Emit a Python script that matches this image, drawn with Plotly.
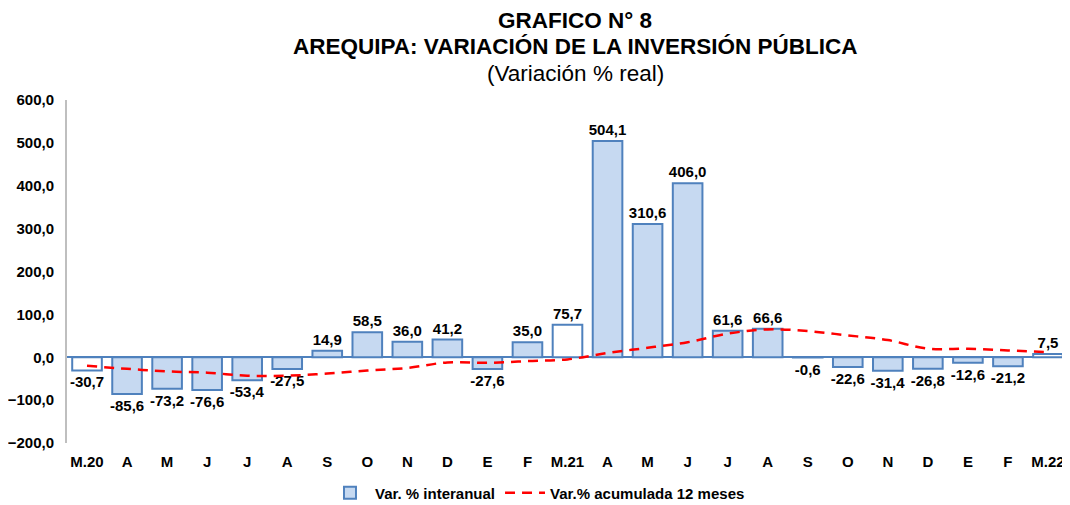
import plotly.graph_objects as go

categories = ["M.20", "A", "M", "J", "J ", "A ", "S", "O", "N", "D", "E", "F", "M.21",
              "A  ", "M ", "J  ", "J   ", "A   ", "S ", "O ", "N ", "D ", "E ", "F ", "M.22"]
tick_labels = ["M.20", "A", "M", "J", "J", "A", "S", "O", "N", "D", "E", "F", "M.21",
               "A", "M", "J", "J", "A", "S", "O", "N", "D", "E", "F", "M.22"]
interanual = [-30.7, -85.6, -73.2, -76.6, -53.4, -27.5, 14.9, 58.5, 36.0, 41.2, -27.6, 35.0, 75.7,
              504.1, 310.6, 406.0, 61.6, 66.6, -0.6, -22.6, -31.4, -26.8, -12.6, -21.2, 7.5]
acumulada = [-20, -27, -33, -36, -43, -43, -38, -31, -25, -12, -13, -9, -5,
             10, 22, 35, 55, 65, 61, 51, 40, 20, 20, 16, 12]

x = list(range(len(categories)))
fills = ["#ffffff" if lab.startswith("M.") else "#c6d9f1" for lab in tick_labels]
FONT = "Liberation Sans, Arial, sans-serif"

fig = go.Figure()
fig.add_trace(go.Bar(
    x=x, y=interanual, name="<b>Var. % interanual</b>", showlegend=False,
    legendgroup="bar",
    marker=dict(color=fills, line=dict(color="#4f81bd", width=2)),
    texttemplate="<b>%{y:.1f}</b>", textposition="outside", cliponaxis=False,
    constraintext="none",
    textfont=dict(family=FONT, size=15, color="black"),
    width=0.74,
))
# legend-only entry with the standard fill
fig.add_trace(go.Bar(
    x=[None], y=[None], name="<b>Var. % interanual</b>", legendgroup="bar",
    marker=dict(color="#c6d9f1", line=dict(color="#4f81bd", width=2)),
))
fig.add_trace(go.Scatter(
    x=x, y=acumulada, name="<b>Var.% acumulada 12 meses</b>", mode="lines",
    line=dict(color="#ff0000", width=2.5, dash="10px,7px", shape="spline"),
))

title_lines = [
    ("<b>GRAFICO N° 8</b>", 1.232),
    ("<b>AREQUIPA: VARIACIÓN DE LA INVERSIÓN PÚBLICA</b>", 1.155),
    ("(Variación % real)", 1.078),
]
annotations = [
    dict(text=t, xref="paper", yref="paper", x=0.5075, y=yy, xanchor="center", yanchor="middle",
         showarrow=False, borderpad=0, font=dict(family=FONT, size=22.5, color="black"))
    for t, yy in title_lines
]

fig.update_layout(
    width=1062, height=497,
    paper_bgcolor="white", plot_bgcolor="white",
    separators=",.",
    margin=dict(l=59, r=2, t=92, b=62, autoexpand=False),
    font=dict(family=FONT, color="black"),
    annotations=annotations,
    showlegend=True,
    legend=dict(orientation="h", x=0.47, xanchor="center", y=-0.146, yanchor="middle",
                font=dict(family=FONT, size=15, color="black"), traceorder="normal",
                itemwidth=40),
    bargap=0.25,
)
fig.update_xaxes(
    tickmode="array", tickvals=x, ticktext=["<b>%s</b>" % t for t in tick_labels],
    tickfont=dict(family=FONT, size=15, color="black"),
    showline=False, showgrid=False, ticks="", range=[-0.5, len(x) - 0.5],
    ticklabelstandoff=8, automargin=False,
)
fig.update_yaxes(
    range=[-200, 600], dtick=100, tickformat=".1f",
    tickprefix="<b>", ticksuffix="</b>",
    tickfont=dict(family=FONT, size=15, color="black"),
    showgrid=False, showline=True, linecolor="#bfbfbf", linewidth=2,
    zeroline=True, zerolinecolor="#4f81bd", zerolinewidth=2, ticks="",
    ticklabelstandoff=8, automargin=False,
)

fig.write_html("out.html")
